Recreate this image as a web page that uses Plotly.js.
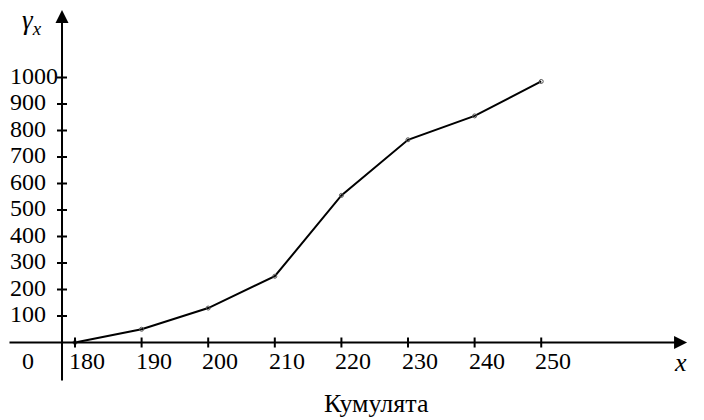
<!DOCTYPE html>
<html>
<head>
<meta charset="utf-8">
<script src="https://cdn.plot.ly/plotly-3.0.1.min.js"></script>
<style>html,body{margin:0;padding:0;background:#fff;}#chart{width:704px;height:420px;}</style>
</head>
<body>
<div id="chart"></div>
<script>
// Data (cumulative frequency polygon)
var xValues = [180, 190, 200, 210, 220, 230, 240, 250];
var yValues = [0, 50, 130, 250, 555, 765, 855, 985];
var xTicks = [180, 190, 200, 210, 220, 230, 240, 250];
var yTicks = [100, 200, 300, 400, 500, 600, 700, 800, 900, 1000];
var xTickLabels = ['180', '190', '200', '210', '220', '230', '240', '250'];
var yTickLabels = ['100', '200', '300', '400', '500', '600', '700', '800', '900', '1000'];
var chartTitle = 'Кумулята';

// axis geometry (data units)
var xRange = [168.74, 274.44];
var yRange = [-292.45, 1292.45];
var xCross = 178.05;          // where the vertical axis crosses
var xAxisStart = 169.94, xAxisEnd = 271.9;
var yAxisStart = -149, yAxisEnd = 1255;

var FONT = "'Liberation Serif', 'DejaVu Serif', serif";
var FS = 24;
var shapes = [];
var annotations = [];

// x ticks
xTicks.forEach(function (v, i) {
  shapes.push({type: 'line', xref: 'x', yref: 'y', ysizemode: 'pixel', yanchor: 0,
    x0: v, x1: v, y0: -5, y1: 5, line: {color: '#000', width: 2}});
  annotations.push({xref: 'x', yref: 'y', x: v, y: 0, xshift: -8, yshift: -18, text: xTickLabels[i],
    showarrow: false, xanchor: 'left', yanchor: 'middle', font: {family: FONT, size: FS, color: '#000'}});
});
// y ticks
yTicks.forEach(function (v, i) {
  shapes.push({type: 'line', xref: 'x', yref: 'y', xsizemode: 'pixel', xanchor: xCross,
    x0: -5, x1: 5, y0: v, y1: v, line: {color: '#000', width: 2}});
  annotations.push({xref: 'paper', yref: 'y', x: 8 / 704, y: v, yshift: 2, text: yTickLabels[i],
    showarrow: false, xanchor: 'left', yanchor: 'middle', font: {family: FONT, size: FS, color: '#000'}});
});
// axes with arrows
annotations.push({xref: 'x', yref: 'y', axref: 'x', ayref: 'y', x: xAxisEnd, y: 0, ax: xAxisStart, ay: 0,
  text: '', showarrow: true, arrowhead: 2, arrowsize: 1.3, arrowwidth: 2, arrowcolor: '#000', standoff: 0, startstandoff: 0});
annotations.push({xref: 'x', yref: 'y', axref: 'x', ayref: 'y', x: xCross, y: yAxisEnd, ax: xCross, ay: yAxisStart,
  text: '', showarrow: true, arrowhead: 2, arrowsize: 1.3, arrowwidth: 2, arrowcolor: '#000', standoff: 0, startstandoff: 0});
// origin label, axis names, title
annotations.push({xref: 'paper', yref: 'y', x: 28 / 704, y: 0, yshift: -18, text: '0', showarrow: false,
  xanchor: 'center', yanchor: 'middle', font: {family: FONT, size: FS, color: '#000'}});
annotations.push({xref: 'paper', yref: 'paper', x: 680 / 704, y: 1 - 362 / 420, text: '<i>x</i>', showarrow: false,
  xanchor: 'center', yanchor: 'middle', font: {family: FONT, size: 26, color: '#000'}});
annotations.push({xref: 'paper', yref: 'paper', x: 20 / 704, y: 1 - 22 / 420, text: '<i>γ</i><sub><i>x</i></sub>', showarrow: false,
  xanchor: 'left', yanchor: 'middle', font: {family: FONT, size: 27, color: '#000'}});
annotations.push({xref: 'paper', yref: 'paper', x: 376 / 704, y: 1 - 403 / 420, text: chartTitle, showarrow: false,
  xanchor: 'center', yanchor: 'middle', font: {family: FONT, size: 26, color: '#000'}});

var trace = {
  x: xValues, y: yValues, type: 'scatter', mode: 'lines+markers',
  line: {color: '#000', width: 2},
  marker: {symbol: 'circle-open', size: 4, color: '#555', line: {width: 1, color: '#555'}},
  hoverinfo: 'none', cliponaxis: false
};

var layout = {
  width: 704, height: 420,
  margin: {l: 0, r: 0, t: 0, b: 0, pad: 0},
  paper_bgcolor: '#fff', plot_bgcolor: '#fff',
  showlegend: false,
  font: {family: FONT, size: FS, color: '#000'},
  xaxis: {range: xRange, visible: false, fixedrange: true},
  yaxis: {range: yRange, visible: false, fixedrange: true},
  shapes: shapes,
  annotations: annotations
};

Plotly.newPlot('chart', [trace], layout, {staticPlot: true, displayModeBar: false});
</script>
</body>
</html>
